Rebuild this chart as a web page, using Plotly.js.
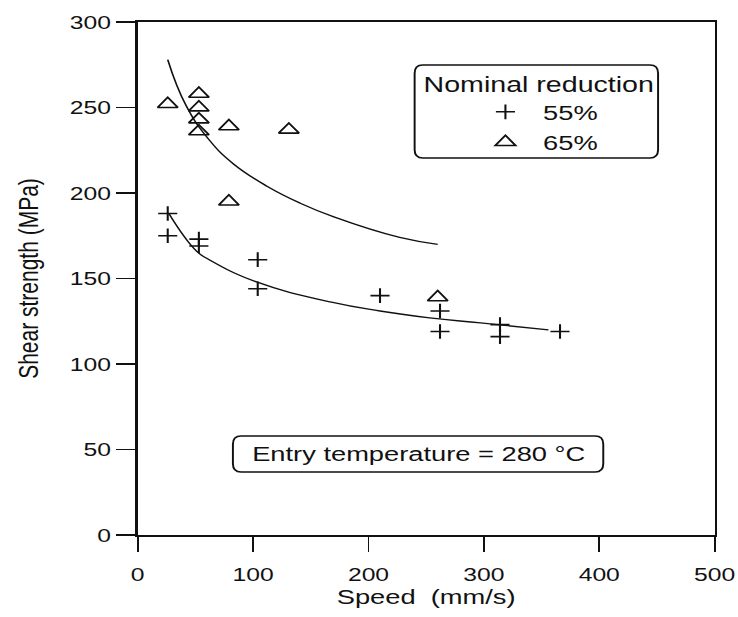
<!DOCTYPE html>
<html>
<head>
<meta charset="utf-8">
<script src="https://cdn.plot.ly/plotly-3.0.1.min.js"></script>
<style>
  html, body { margin: 0; padding: 0; background: #ffffff; overflow: hidden; }
  #chart { width: 568px; height: 617px; transform: scaleX(1.2993); transform-origin: 0 0; }
</style>
</head>
<body>
<div id="chart"></div>
<script>
// ---- data ----
const speed55 = [26, 26, 53, 53, 104, 104, 210, 262, 262, 314, 314, 366];
const shear55 = [188, 175, 173, 169, 161, 144, 140, 131, 119, 123, 116, 119];

const speed65 = [26, 53, 53, 53, 53, 79, 131, 79, 260];
const shear65 = [252, 258, 250, 243, 236, 239, 237, 195, 139];

// fitted curves as drawn in the reference
const fitSpeed55 = [27, 51, 62, 103, 169, 210, 253, 297, 356];
const fitShear55 = [188, 166, 161, 148, 136, 131, 127, 124, 120];

const fitSpeed65 = [26, 42, 62, 83, 112, 141, 170, 227, 260];
const fitShear65 = [278, 251, 231, 217, 204, 194, 186, 174, 170];

const seriesNames = ['55%', '65%'];
const legendTitle = 'Nominal reduction';
const noteText = 'Entry temperature = 280 \u00B0C';
const xTitle = 'Speed\u00A0 (mm/s)';
const yTitle = 'Shear strength (MPa)';

// ---- styling ----
const FONT = 'Liberation Sans, Arial, Helvetica, sans-serif';
const INK = '#111111';

function roundRect(x0, y0, x1, y1, rx, ry) {
  return 'M' + (x0 + rx) + ',' + y1 +
    ' L' + (x1 - rx) + ',' + y1 +
    ' Q' + x1 + ',' + y1 + ' ' + x1 + ',' + (y1 - ry) +
    ' L' + x1 + ',' + (y0 + ry) +
    ' Q' + x1 + ',' + y0 + ' ' + (x1 - rx) + ',' + y0 +
    ' L' + (x0 + rx) + ',' + y0 +
    ' Q' + x0 + ',' + y0 + ' ' + x0 + ',' + (y0 + ry) +
    ' L' + x0 + ',' + (y1 - ry) +
    ' Q' + x0 + ',' + y1 + ' ' + (x0 + rx) + ',' + y1 + ' Z';
}

const traces = [
  {
    x: fitSpeed65, y: fitShear65, mode: 'lines', type: 'scatter',
    line: { color: INK, width: 1.3, shape: 'spline', smoothing: 1.3 },
    showlegend: false, hoverinfo: 'skip'
  },
  {
    x: fitSpeed55, y: fitShear55, mode: 'lines', type: 'scatter',
    line: { color: INK, width: 1.3, shape: 'spline', smoothing: 1.3 },
    showlegend: false, hoverinfo: 'skip'
  },
  {
    x: speed55, y: shear55, mode: 'markers', type: 'scatter', name: seriesNames[0],
    marker: { symbol: 'cross-thin-open', size: 10.5, color: INK, line: { color: INK, width: 1.6 } }
  },
  {
    x: speed65, y: shear65, mode: 'markers', type: 'scatter', name: seriesNames[1],
    marker: { symbol: 'triangle-up-open', size: 13.5, color: INK, line: { color: INK, width: 1.6 } }
  }
];

const layout = {
  width: 568,
  height: 617,
  margin: { l: 106, r: 18, t: 22, b: 82 },
  paper_bgcolor: '#ffffff',
  plot_bgcolor: '#ffffff',
  font: { family: FONT, color: INK, size: 19 },
  showlegend: true,
  legend: {
    x: 0.491, y: 0.92, xanchor: 'left', yanchor: 'top',
    bgcolor: 'rgba(0,0,0,0)', borderwidth: 0,
    font: { family: FONT, size: 21, color: INK },
    title: { text: legendTitle, side: 'top', font: { family: FONT, size: 22, color: INK } },
    indentation: 36,
    itemwidth: 48,
    tracegroupgap: 0
  },
  xaxis: {
    range: [0, 500], dtick: 100, tick0: 0,
    showgrid: false, zeroline: false,
    showline: true, linecolor: INK, linewidth: 1.8, mirror: true,
    ticks: 'outside', ticklen: 15, tickwidth: 1.5, tickcolor: INK,
    ticklabelstandoff: 6,
    tickfont: { family: FONT, size: 19, color: INK },
    title: { text: xTitle, standoff: 5, font: { family: FONT, size: 21, color: INK } },
    automargin: false
  },
  yaxis: {
    range: [0, 300], dtick: 50, tick0: 0,
    showgrid: false, zeroline: false,
    showline: true, linecolor: INK, linewidth: 1.8, mirror: true,
    ticks: 'outside', ticklen: 15, tickwidth: 1.5, tickcolor: INK,
    tickfont: { family: FONT, size: 19, color: INK },
    title: { text: yTitle, standoff: 18, font: { family: FONT, size: 21, color: INK } },
    automargin: true
  },
  shapes: [
    {
      type: 'path', xref: 'paper', yref: 'paper',
      path: roundRect(0.48, 0.735, 0.902, 0.916, 0.014, 0.016),
      line: { color: INK, width: 1.5 }, fillcolor: 'rgba(0,0,0,0)', layer: 'above'
    },
    {
      type: 'path', xref: 'paper', yref: 'paper',
      path: roundRect(0.165, 0.123, 0.807, 0.193, 0.014, 0.016),
      line: { color: INK, width: 1.5 }, fillcolor: 'rgba(0,0,0,0)', layer: 'above'
    }
  ],
  annotations: [
    {
      xref: 'paper', yref: 'paper', x: 0.486, y: 0.158,
      xanchor: 'center', yanchor: 'middle', showarrow: false,
      text: noteText, font: { family: FONT, size: 21, color: INK }
    }
  ]
};

Plotly.newPlot('chart', traces, layout, { displayModeBar: false, staticPlot: true });
</script>
</body>
</html>
